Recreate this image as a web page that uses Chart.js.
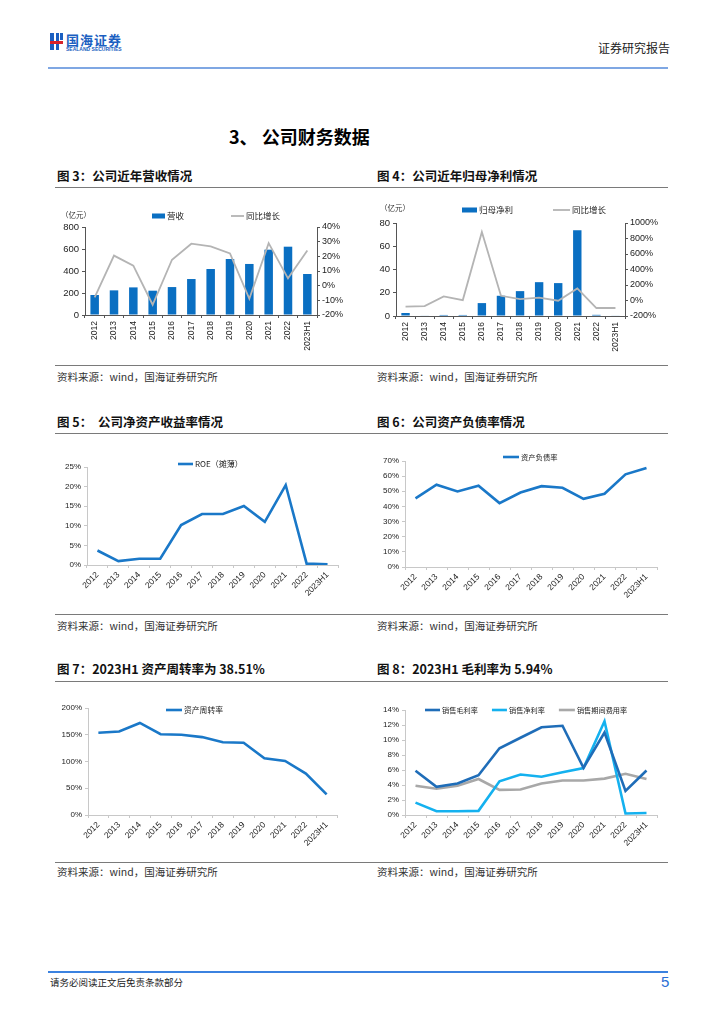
<!DOCTYPE html>
<html><head><meta charset="utf-8">
<script src="https://cdn.jsdelivr.net/npm/chart.js@4"></script>
<style>
body{margin:0;background:#fff;width:724px;height:1024px;position:relative;font-family:"Noto Sans CJK SC",sans-serif;overflow:hidden}
.abs{position:absolute;white-space:nowrap;line-height:1}
.hline{position:absolute;height:0;border-top:1px solid #7a7a7a}
.figt{position:absolute;font-size:12.5px;font-weight:bold;color:#111;line-height:1;white-space:nowrap}
.src{position:absolute;font-size:10.5px;color:#333;line-height:1;white-space:nowrap}
canvas{position:absolute}
</style></head><body>
<script>
// ---------- DATA ----------
const years = ['2012','2013','2014','2015','2016','2017','2018','2019','2020','2021','2022','2023H1'];
const revenue = [182,224,251,221,254,327,418,509,464,594,621,373];
const revenueYoY = [-8,20.5,13.6,-13,17.7,28.6,26.8,22,-9,29,5,24];
const netProfit = [2.6,0.5,0.9,0.9,11.1,17.4,21.4,29.1,28.3,73.7,1.0,0.5];
const netProfitYoY = [-80,-72,52,5,884,61,18,36,-3,156,-97,-97];
const roe = [3.7,1.0,1.6,1.6,10.2,13.0,13.0,15.05,11.0,20.4,0.34,0.2];
const debtRatio = [45.3,54.3,49.9,53.7,42.2,49.2,53.4,52.3,45.0,48.4,61.2,65.4];
const assetTurnover = [153.8,156,172,151,150,145.6,136,135,106,101,77.5,38.51];
const grossMargin = [5.9,3.75,4.2,5.3,8.9,10.3,11.7,11.9,6.3,11.0,3.2,5.94];
const netMargin = [1.65,0.5,0.5,0.55,4.5,5.4,5.1,5.7,6.25,12.5,0.2,0.27];
const expenseRatio = [3.9,3.5,3.9,4.8,3.35,3.4,4.2,4.6,4.6,4.85,5.5,4.8];
</script>

<!-- header -->
<div class="abs" style="left:50px;top:33px;width:4px;height:17px;background:#1b5fc1"></div>
<div class="abs" style="left:56px;top:33px;width:3px;height:17px;background:#1b5fc1"></div>
<div class="abs" style="left:50px;top:41px;width:13px;height:3px;background:#d8222a"></div>
<div class="abs" style="left:60px;top:33px;width:3px;height:7px;background:#1b5fc1"></div>
<div class="abs" style="left:66px;top:33px;font-size:13px;font-weight:bold;color:#1b5fc1;letter-spacing:1px">国海证券</div>
<div class="abs" style="left:66px;top:47px;font-size:5px;font-weight:bold;color:#1b5fc1;font-family:'Liberation Sans'">SEALAND SECURITIES</div>
<div class="abs" style="left:598px;top:42px;font-size:12px;color:#222">证券研究报告</div>
<div class="hline" style="left:48px;top:67px;width:620px;border-top:2px solid #7fa7e3"></div>

<div class="abs" style="left:229px;top:127px;font-size:18px;font-weight:bold;color:#000">3、 公司财务数据</div>

<div class="figt" style="left:57px;top:170px">图 3：公司近年营收情况</div>
<div class="figt" style="left:377px;top:170px">图 4：公司近年归母净利情况</div>
<div class="hline" style="left:55px;top:187px;width:613px"></div>
<canvas id="c3" width="290" height="155" style="left:55px;top:200px"></canvas>
<canvas id="c4" width="300" height="155" style="left:370px;top:200px"></canvas>
<div class="abs" style="left:61px;top:211px;font-size:7.5px;color:#333">（亿元）</div>
<div class="abs" style="left:380px;top:204px;font-size:7.5px;color:#333">（亿元）</div>
<div class="hline" style="left:55px;top:365px;width:613px"></div>
<div class="src" style="left:57px;top:372px">资料来源：wind，国海证券研究所</div>
<div class="src" style="left:377px;top:372px">资料来源：wind，国海证券研究所</div>

<div class="figt" style="left:57px;top:416px">图 5：&nbsp;&nbsp;公司净资产收益率情况</div>
<div class="figt" style="left:377px;top:416px">图 6：公司资产负债率情况</div>
<div class="hline" style="left:55px;top:433px;width:613px"></div>
<canvas id="c5" width="290" height="155" style="left:55px;top:450px"></canvas>
<canvas id="c6" width="300" height="155" style="left:370px;top:450px"></canvas>
<div class="hline" style="left:55px;top:614px;width:613px"></div>
<div class="src" style="left:57px;top:621px">资料来源：wind，国海证券研究所</div>
<div class="src" style="left:377px;top:621px">资料来源：wind，国海证券研究所</div>

<div class="figt" style="left:57px;top:663px">图 7：2023H1 资产周转率为 38.51%</div>
<div class="figt" style="left:377px;top:663px">图 8：2023H1 毛利率为 5.94%</div>
<div class="hline" style="left:55px;top:681px;width:613px"></div>
<canvas id="c7" width="290" height="160" style="left:55px;top:695px"></canvas>
<canvas id="c8" width="300" height="160" style="left:370px;top:695px"></canvas>
<div class="hline" style="left:55px;top:862px;width:613px"></div>
<div class="src" style="left:57px;top:867px">资料来源：wind，国海证券研究所</div>
<div class="src" style="left:377px;top:867px">资料来源：wind，国海证券研究所</div>

<div class="hline" style="left:48px;top:971px;width:620px;border-top:2px solid #3b82e0"></div>
<div class="src" style="left:50px;top:978px;color:#222;font-size:9.5px">请务必阅读正文后免责条款部分</div>
<div class="abs" style="left:661px;top:974px;font-size:15px;color:#2a6fd6;font-family:'Liberation Sans'">5</div>

<script>
Chart.defaults.animation = false;
Chart.defaults.responsive = false;
Chart.defaults.font.family = "'Liberation Sans', Arial, sans-serif";
Chart.defaults.color = '#222';

const inlineLegend = {
  id: 'inlineLegend',
  afterDraw(chart, args, o) {
    if (!o || o.x === undefined) return;
    const ctx = chart.ctx;
    ctx.save();
    ctx.font = o.fontSize + "px 'Noto Sans CJK SC'";
    ctx.textBaseline = 'middle';
    let x = o.x;
    chart.data.datasets.forEach((ds, i) => {
      const type = ds.type || chart.config.type;
      const w = o.symW[i];
      if (type === 'bar') {
        ctx.fillStyle = ds.backgroundColor;
        ctx.fillRect(x, o.y - o.barH / 2, w, o.barH);
      } else {
        ctx.strokeStyle = ds.borderColor;
        ctx.lineWidth = ds.borderWidth;
        ctx.beginPath(); ctx.moveTo(x, o.y); ctx.lineTo(x + w, o.y); ctx.stroke();
      }
      x += w + 2;
      ctx.fillStyle = '#222';
      ctx.fillText(ds.label, x, o.y);
      x += ctx.measureText(ds.label).width + o.gap;
    });
    ctx.restore();
  }
};
Chart.register(inlineLegend);

function fixW(w){ return s => { s.width = w; }; }
function fixH(h){ return s => { s.height = h; }; }
const pct = v => v + '%';

function comboChart(id, bars, line, barLabel, lineLabel, yl, yr, L, R, T, XH, leg) {
  new Chart(document.getElementById(id), {
    type: 'bar',
    data: {
      labels: years,
      datasets: [
        { type: 'bar', label: barLabel, data: bars, backgroundColor: '#0a6fc2', yAxisID: 'y', order: 2,
          barPercentage: 0.44, categoryPercentage: 1 },
        { type: 'line', label: lineLabel, data: line, borderColor: '#b4b4b4', borderWidth: 1.8, pointRadius: 0,
          tension: 0, yAxisID: 'y1', order: 1 }
      ]
    },
    options: {
      layout: { padding: { top: T, left: 0, right: 0, bottom: 0 } },
      plugins: { legend: { display: false }, tooltip: { enabled: false }, inlineLegend: leg },
      scales: {
        x: { afterFit: fixH(XH), border: { color: '#555' },
             grid: { drawOnChartArea: false, tickLength: 3, color: '#555', offset: true },
             ticks: { minRotation: 90, maxRotation: 90, font: { size: 8.5 }, padding: 3 } },
        y: { position: 'left', min: yl[0], max: yl[1], afterFit: fixW(L), border: { color: '#555' },
             grid: { drawOnChartArea: false, tickLength: 3, color: '#555' },
             ticks: { stepSize: yl[2], font: { size: 9.5 }, padding: 3 } },
        y1: { position: 'right', min: yr[0], max: yr[1], afterFit: fixW(R), border: { color: '#555' },
             grid: { drawOnChartArea: false, tickLength: 3, color: '#555' },
             ticks: { stepSize: yr[2], font: { size: 9 }, padding: 2, callback: pct } }
      }
    }
  });
}

comboChart('c3', revenue, revenueYoY, '营收', '同比增长', [0, 800, 200], [-20, 40, 10], 30, 28, 27, 40,
  { x: 97, y: 16, fontSize: 8.5, symW: [13, 13], barH: 5, gap: 47 });
comboChart('c4', netProfit, netProfitYoY, '归母净利', '同比增长', [0, 80, 20], [-200, 1000, 200], 26, 45, 23, 39,
  { x: 92, y: 10, fontSize: 8.5, symW: [15, 17], barH: 5, gap: 40 });

function lineChart(id, sets, yr, L, R, T, XH, leg) {
  new Chart(document.getElementById(id), {
    type: 'line',
    data: {
      labels: years,
      datasets: sets.map(s => ({ label: s[0], data: s[1], borderColor: s[2], borderWidth: 2.6, pointRadius: 0, tension: 0 }))
    },
    options: {
      layout: { padding: { top: T, right: R, left: 0, bottom: 0 } },
      plugins: { legend: { display: false }, tooltip: { enabled: false }, inlineLegend: leg },
      scales: {
        x: { offset: true, afterFit: fixH(XH), border: { color: '#c8c8c8' },
             grid: { drawOnChartArea: false, tickLength: 3, color: '#c8c8c8', offset: true },
             ticks: { minRotation: 45, maxRotation: 45, font: { size: 8.5 }, padding: 2 } },
        y: { min: yr[0], max: yr[1], afterFit: fixW(L), border: { color: '#c8c8c8' },
             grid: { drawOnChartArea: false, tickLength: 3, color: '#c8c8c8' },
             ticks: { stepSize: yr[2], font: { size: 8 }, padding: 3, callback: pct } }
      }
    }
  });
}

lineChart('c5', [['ROE（摊薄）', roe, '#1a78c8']], [0, 25, 5], 32, 7, 17, 40,
  { x: 123, y: 14, fontSize: 8, symW: [15], barH: 0, gap: 10 });
lineChart('c6', [['资产负债率', debtRatio, '#1a78c8']], [0, 70, 10], 35, 13, 11, 38,
  { x: 133, y: 7, fontSize: 7.3, symW: [16], barH: 0, gap: 10 });
lineChart('c7', [['资产周转率', assetTurnover, '#1a78c8']], [0, 200, 50], 33, 8, 13, 40,
  { x: 111, y: 15, fontSize: 7.8, symW: [16], barH: 0, gap: 10 });
lineChart('c8', [['销售毛利率', grossMargin, '#1f6db8'], ['销售净利率', netMargin, '#14b1ef'], ['销售期间费用率', expenseRatio, '#a8a8a8']],
  [0, 14, 2], 35, 13, 15, 40,
  { x: 55, y: 15, fontSize: 7.2, symW: [15, 15, 16], barH: 0, gap: 14 });
</script>
</body></html>
